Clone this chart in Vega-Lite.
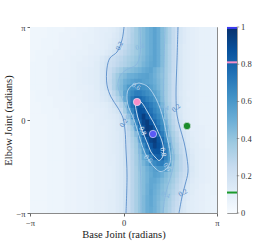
{
"$schema":"https://vega.github.io/schema/vega-lite/v6.json",
"padding":{"left":3,"top":22,"right":2,"bottom":2},
"spacing":5,
"config":{"font":"Liberation Serif","view":{"stroke":"#8a8a8a","strokeWidth":1},
"text":{"font":"Liberation Serif"},
"axis":{"labelFont":"Liberation Serif","titleFont":"Liberation Serif","labelFontSize":8.5,"titleFontSize":10.5,"titleFontWeight":"normal","labelColor":"#333","titleColor":"#222","tickColor":"#666","tickSize":3,"domain":false,"grid":false,"labelPadding":2,"labelFlush":false,"labelOverlap":false}},
"datasets":{
"fine":[
{"y":3.043,"x":[-0.6875,-0.5625,-0.4375,-0.3125,-0.1875,-0.0625,0.0625,0.1875,0.3125,0.4375,0.5625,0.6875,0.8125,0.9375,1.0625,1.1875,1.3125,1.4375,1.5625,1.6875,1.8125,1.9375,2.0625,2.1875,2.3125],"v":[0.10,0.10,0.11,0.12,0.14,0.18,0.22,0.27,0.31,0.36,0.40,0.44,0.48,0.51,0.55,0.51,0.44,0.38,0.32,0.26,0.21,0.16,0.13,0.11,0.10]},
{"y":2.847,"x":[-0.6875,-0.5625,-0.4375,-0.3125,-0.1875,-0.0625,0.0625,0.1875,0.3125,0.4375,0.5625,0.6875,0.8125,0.9375,1.0625,1.1875,1.3125,1.4375,1.5625,1.6875,1.8125,1.9375,2.0625,2.1875,2.3125],"v":[0.10,0.11,0.11,0.13,0.15,0.19,0.23,0.27,0.32,0.36,0.40,0.44,0.48,0.51,0.55,0.51,0.44,0.38,0.32,0.26,0.20,0.16,0.13,0.11,0.10]},
{"y":2.651,"x":[-0.6875,-0.5625,-0.4375,-0.3125,-0.1875,-0.0625,0.0625,0.1875,0.3125,0.4375,0.5625,0.6875,0.8125,0.9375,1.0625,1.1875,1.3125,1.4375,1.5625,1.6875,1.8125,1.9375,2.0625,2.1875,2.3125],"v":[0.10,0.11,0.12,0.14,0.16,0.20,0.24,0.28,0.32,0.36,0.40,0.44,0.48,0.51,0.55,0.51,0.44,0.38,0.32,0.26,0.20,0.16,0.13,0.11,0.10]},
{"y":2.454,"x":[-0.6875,-0.5625,-0.4375,-0.3125,-0.1875,-0.0625,0.0625,0.1875,0.3125,0.4375,0.5625,0.6875,0.8125,0.9375,1.0625,1.1875,1.3125,1.4375,1.5625,1.6875,1.8125,1.9375,2.0625,2.1875,2.3125],"v":[0.10,0.11,0.13,0.15,0.19,0.22,0.26,0.30,0.33,0.37,0.40,0.44,0.48,0.51,0.55,0.51,0.44,0.37,0.31,0.26,0.20,0.15,0.12,0.11,0.10]},
{"y":2.258,"x":[-0.6875,-0.5625,-0.4375,-0.3125,-0.1875,-0.0625,0.0625,0.1875,0.3125,0.4375,0.5625,0.6875,0.8125,0.9375,1.0625,1.1875,1.3125,1.4375,1.5625,1.6875,1.8125,1.9375,2.0625,2.1875,2.3125],"v":[0.11,0.13,0.15,0.18,0.22,0.25,0.28,0.31,0.34,0.37,0.40,0.44,0.48,0.51,0.55,0.51,0.44,0.37,0.31,0.25,0.20,0.15,0.12,0.11,0.10]},
{"y":2.062,"x":[-0.6875,-0.5625,-0.4375,-0.3125,-0.1875,-0.0625,0.0625,0.1875,0.3125,0.4375,0.5625,0.6875,0.8125,0.9375,1.0625,1.1875,1.3125,1.4375,1.5625,1.6875,1.8125,1.9375,2.0625,2.1875,2.3125],"v":[0.14,0.17,0.21,0.23,0.26,0.28,0.31,0.34,0.36,0.39,0.42,0.45,0.49,0.52,0.55,0.51,0.44,0.37,0.31,0.25,0.20,0.15,0.12,0.11,0.10]},
{"y":1.865,"x":[-0.6875,-0.5625,-0.4375,-0.3125,-0.1875,-0.0625,0.0625,0.1875,0.3125,0.4375,0.5625,0.6875,0.8125,0.9375,1.0625,1.1875,1.3125,1.4375,1.5625,1.6875,1.8125,1.9375,2.0625,2.1875,2.3125],"v":[0.15,0.19,0.22,0.24,0.27,0.30,0.32,0.35,0.38,0.40,0.43,0.47,0.50,0.53,0.55,0.51,0.44,0.37,0.31,0.25,0.19,0.15,0.12,0.11,0.10]},
{"y":1.669,"x":[-0.6875,-0.5625,-0.4375,-0.3125,-0.1875,-0.0625,0.0625,0.1875,0.3125,0.4375,0.5625,0.6875,0.8125,0.9375,1.0625,1.1875,1.3125,1.4375,1.5625,1.6875,1.8125,1.9375,2.0625,2.1875,2.3125],"v":[0.16,0.20,0.24,0.28,0.32,0.36,0.40,0.42,0.44,0.46,0.48,0.51,0.53,0.55,0.50,0.46,0.42,0.36,0.31,0.25,0.19,0.15,0.12,0.11,0.10]},
{"y":1.473,"x":[-0.6875,-0.5625,-0.4375,-0.3125,-0.1875,-0.0625,0.0625,0.1875,0.3125,0.4375,0.5625,0.6875,0.8125,0.9375,1.0625,1.1875,1.3125,1.4375,1.5625,1.6875,1.8125,1.9375,2.0625,2.1875,2.3125],"v":[0.16,0.20,0.25,0.31,0.37,0.42,0.45,0.49,0.50,0.52,0.54,0.55,0.56,0.53,0.49,0.45,0.41,0.36,0.30,0.24,0.19,0.15,0.12,0.11,0.10]},
{"y":1.276,"x":[-0.6875,-0.5625,-0.4375,-0.3125,-0.1875,-0.0625,0.0625,0.1875,0.3125,0.4375,0.5625,0.6875,0.8125,0.9375,1.0625,1.1875,1.3125,1.4375,1.5625,1.6875,1.8125,1.9375,2.0625,2.1875,2.3125],"v":[0.16,0.20,0.26,0.32,0.38,0.44,0.49,0.52,0.55,0.57,0.58,0.56,0.55,0.53,0.50,0.46,0.42,0.36,0.30,0.24,0.19,0.15,0.12,0.11,0.10]},
{"y":1.080,"x":[-0.6875,-0.5625,-0.4375,-0.3125,-0.1875,-0.0625,0.0625,0.1875,0.3125,0.4375,0.5625,0.6875,0.8125,0.9375,1.0625,1.1875,1.3125,1.4375,1.5625,1.6875,1.8125,1.9375,2.0625,2.1875,2.3125],"v":[0.15,0.19,0.25,0.32,0.39,0.45,0.52,0.59,0.62,0.64,0.65,0.63,0.61,0.56,0.52,0.47,0.42,0.36,0.30,0.24,0.19,0.15,0.12,0.11,0.10]},
{"y":0.884,"x":[-0.6875,-0.5625,-0.4375,-0.3125,-0.1875,-0.0625,0.0625,0.1875,0.3125,0.4375,0.5625,0.6875,0.8125,0.9375,1.0625,1.1875,1.3125,1.4375,1.5625,1.6875,1.8125,1.9375,2.0625,2.1875,2.3125],"v":[0.14,0.16,0.21,0.28,0.35,0.43,0.55,0.62,0.66,0.70,0.70,0.67,0.64,0.61,0.56,0.50,0.43,0.36,0.30,0.24,0.18,0.14,0.12,0.10,0.10]},
{"y":0.687,"x":[-0.6875,-0.5625,-0.4375,-0.3125,-0.1875,-0.0625,0.0625,0.1875,0.3125,0.4375,0.5625,0.6875,0.8125,0.9375,1.0625,1.1875,1.3125,1.4375,1.5625,1.6875,1.8125,1.9375,2.0625,2.1875,2.3125],"v":[0.13,0.15,0.18,0.24,0.31,0.37,0.52,0.64,0.72,0.79,0.78,0.74,0.69,0.65,0.61,0.53,0.44,0.36,0.30,0.24,0.19,0.15,0.12,0.11,0.10]},
{"y":0.491,"x":[-0.6875,-0.5625,-0.4375,-0.3125,-0.1875,-0.0625,0.0625,0.1875,0.3125,0.4375,0.5625,0.6875,0.8125,0.9375,1.0625,1.1875,1.3125,1.4375,1.5625,1.6875,1.8125,1.9375,2.0625,2.1875,2.3125],"v":[0.11,0.12,0.14,0.18,0.23,0.30,0.38,0.64,0.74,0.82,0.85,0.79,0.75,0.70,0.65,0.60,0.47,0.37,0.31,0.25,0.19,0.15,0.12,0.10,0.10]},
{"y":0.295,"x":[-0.6875,-0.5625,-0.4375,-0.3125,-0.1875,-0.0625,0.0625,0.1875,0.3125,0.4375,0.5625,0.6875,0.8125,0.9375,1.0625,1.1875,1.3125,1.4375,1.5625,1.6875,1.8125,1.9375,2.0625,2.1875,2.3125],"v":[0.10,0.11,0.13,0.15,0.18,0.25,0.35,0.51,0.68,0.80,0.87,0.86,0.79,0.74,0.68,0.63,0.53,0.39,0.32,0.26,0.19,0.15,0.12,0.11,0.10]},
{"y":0.098,"x":[-0.6875,-0.5625,-0.4375,-0.3125,-0.1875,-0.0625,0.0625,0.1875,0.3125,0.4375,0.5625,0.6875,0.8125,0.9375,1.0625,1.1875,1.3125,1.4375,1.5625,1.6875,1.8125,1.9375,2.0625,2.1875,2.3125],"v":[0.10,0.11,0.12,0.13,0.15,0.19,0.28,0.38,0.60,0.75,0.86,0.94,0.86,0.78,0.72,0.66,0.60,0.42,0.34,0.27,0.20,0.16,0.12,0.11,0.10]},
{"y":-0.098,"x":[-0.6875,-0.5625,-0.4375,-0.3125,-0.1875,-0.0625,0.0625,0.1875,0.3125,0.4375,0.5625,0.6875,0.8125,0.9375,1.0625,1.1875,1.3125,1.4375,1.5625,1.6875,1.8125,1.9375,2.0625,2.1875,2.3125],"v":[0.10,0.10,0.11,0.12,0.14,0.18,0.24,0.33,0.45,0.67,0.81,0.91,0.95,0.86,0.78,0.70,0.63,0.48,0.36,0.29,0.23,0.17,0.13,0.11,0.10]},
{"y":-0.295,"x":[-0.6875,-0.5625,-0.4375,-0.3125,-0.1875,-0.0625,0.0625,0.1875,0.3125,0.4375,0.5625,0.6875,0.8125,0.9375,1.0625,1.1875,1.3125,1.4375,1.5625,1.6875,1.8125,1.9375,2.0625,2.1875,2.3125],"v":[0.09,0.10,0.11,0.12,0.14,0.16,0.21,0.29,0.37,0.57,0.74,0.86,0.95,0.93,0.84,0.75,0.66,0.54,0.38,0.31,0.25,0.19,0.15,0.12,0.10]},
{"y":-0.491,"x":[-0.6875,-0.5625,-0.4375,-0.3125,-0.1875,-0.0625,0.0625,0.1875,0.3125,0.4375,0.5625,0.6875,0.8125,0.9375,1.0625,1.1875,1.3125,1.4375,1.5625,1.6875,1.8125,1.9375,2.0625,2.1875,2.3125],"v":[0.09,0.10,0.11,0.12,0.13,0.16,0.20,0.27,0.34,0.43,0.65,0.80,0.90,0.99,0.91,0.81,0.71,0.61,0.40,0.34,0.28,0.21,0.17,0.14,0.11]},
{"y":-0.687,"x":[-0.6875,-0.5625,-0.4375,-0.3125,-0.1875,-0.0625,0.0625,0.1875,0.3125,0.4375,0.5625,0.6875,0.8125,0.9375,1.0625,1.1875,1.3125,1.4375,1.5625,1.6875,1.8125,1.9375,2.0625,2.1875,2.3125],"v":[0.09,0.10,0.11,0.12,0.13,0.16,0.20,0.26,0.32,0.38,0.58,0.73,0.84,0.92,0.95,0.86,0.77,0.65,0.46,0.36,0.30,0.24,0.18,0.14,0.12]},
{"y":-0.884,"x":[-0.6875,-0.5625,-0.4375,-0.3125,-0.1875,-0.0625,0.0625,0.1875,0.3125,0.4375,0.5625,0.6875,0.8125,0.9375,1.0625,1.1875,1.3125,1.4375,1.5625,1.6875,1.8125,1.9375,2.0625,2.1875,2.3125],"v":[0.09,0.10,0.11,0.12,0.13,0.15,0.20,0.25,0.31,0.37,0.48,0.65,0.77,0.85,0.93,0.88,0.81,0.69,0.53,0.37,0.32,0.26,0.20,0.15,0.12]},
{"y":-1.080,"x":[-0.6875,-0.5625,-0.4375,-0.3125,-0.1875,-0.0625,0.0625,0.1875,0.3125,0.4375,0.5625,0.6875,0.8125,0.9375,1.0625,1.1875,1.3125,1.4375,1.5625,1.6875,1.8125,1.9375,2.0625,2.1875,2.3125],"v":[0.09,0.10,0.11,0.12,0.13,0.15,0.19,0.25,0.30,0.36,0.44,0.57,0.69,0.81,0.85,0.86,0.81,0.71,0.60,0.39,0.33,0.27,0.22,0.17,0.13]},
{"y":-1.276,"x":[-0.6875,-0.5625,-0.4375,-0.3125,-0.1875,-0.0625,0.0625,0.1875,0.3125,0.4375,0.5625,0.6875,0.8125,0.9375,1.0625,1.1875,1.3125,1.4375,1.5625,1.6875,1.8125,1.9375,2.0625,2.1875,2.3125],"v":[0.09,0.10,0.11,0.11,0.13,0.15,0.19,0.24,0.30,0.35,0.41,0.51,0.60,0.69,0.78,0.81,0.79,0.69,0.60,0.42,0.35,0.29,0.23,0.18,0.14]},
{"y":-1.473,"x":[-0.6875,-0.5625,-0.4375,-0.3125,-0.1875,-0.0625,0.0625,0.1875,0.3125,0.4375,0.5625,0.6875,0.8125,0.9375,1.0625,1.1875,1.3125,1.4375,1.5625,1.6875,1.8125,1.9375,2.0625,2.1875,2.3125],"v":[0.09,0.10,0.11,0.11,0.13,0.15,0.19,0.24,0.29,0.35,0.40,0.47,0.54,0.61,0.65,0.69,0.70,0.65,0.58,0.39,0.34,0.29,0.24,0.19,0.14]},
{"y":-1.669,"x":[-0.6875,-0.5625,-0.4375,-0.3125,-0.1875,-0.0625,0.0625,0.1875,0.3125,0.4375,0.5625,0.6875,0.8125,0.9375,1.0625,1.1875,1.3125,1.4375,1.5625,1.6875,1.8125,1.9375,2.0625,2.1875,2.3125],"v":[0.09,0.10,0.10,0.11,0.13,0.15,0.18,0.23,0.29,0.34,0.40,0.44,0.49,0.53,0.57,0.61,0.61,0.57,0.47,0.38,0.34,0.29,0.24,0.19,0.15]},
{"y":-1.865,"x":[-0.6875,-0.5625,-0.4375,-0.3125,-0.1875,-0.0625,0.0625,0.1875,0.3125,0.4375,0.5625,0.6875,0.8125,0.9375,1.0625,1.1875,1.3125,1.4375,1.5625,1.6875,1.8125,1.9375,2.0625,2.1875,2.3125],"v":[0.09,0.10,0.10,0.11,0.13,0.15,0.18,0.23,0.29,0.34,0.39,0.44,0.48,0.52,0.56,0.54,0.50,0.45,0.41,0.37,0.32,0.27,0.23,0.19,0.14]},
{"y":-2.062,"x":[-0.6875,-0.5625,-0.4375,-0.3125,-0.1875,-0.0625,0.0625,0.1875,0.3125,0.4375,0.5625,0.6875,0.8125,0.9375,1.0625,1.1875,1.3125,1.4375,1.5625,1.6875,1.8125,1.9375,2.0625,2.1875,2.3125],"v":[0.09,0.10,0.10,0.11,0.13,0.15,0.18,0.23,0.29,0.34,0.39,0.44,0.48,0.53,0.53,0.50,0.46,0.43,0.39,0.35,0.30,0.26,0.21,0.17,0.13]},
{"y":-2.258,"x":[-0.6875,-0.5625,-0.4375,-0.3125,-0.1875,-0.0625,0.0625,0.1875,0.3125,0.4375,0.5625,0.6875,0.8125,0.9375,1.0625,1.1875,1.3125,1.4375,1.5625,1.6875,1.8125,1.9375,2.0625,2.1875,2.3125],"v":[0.09,0.10,0.10,0.11,0.13,0.15,0.18,0.23,0.29,0.34,0.39,0.44,0.49,0.53,0.51,0.48,0.44,0.41,0.37,0.33,0.28,0.24,0.20,0.15,0.12]},
{"y":-2.454,"x":[-0.6875,-0.5625,-0.4375,-0.3125,-0.1875,-0.0625,0.0625,0.1875,0.3125,0.4375,0.5625,0.6875,0.8125,0.9375,1.0625,1.1875,1.3125,1.4375,1.5625,1.6875,1.8125,1.9375,2.0625,2.1875,2.3125],"v":[0.09,0.10,0.11,0.11,0.13,0.15,0.19,0.24,0.29,0.34,0.39,0.44,0.49,0.54,0.50,0.47,0.43,0.40,0.35,0.31,0.27,0.22,0.18,0.14,0.12]},
{"y":-2.651,"x":[-0.6875,-0.5625,-0.4375,-0.3125,-0.1875,-0.0625,0.0625,0.1875,0.3125,0.4375,0.5625,0.6875,0.8125,0.9375,1.0625,1.1875,1.3125,1.4375,1.5625,1.6875,1.8125,1.9375,2.0625,2.1875,2.3125],"v":[0.09,0.10,0.11,0.11,0.13,0.15,0.19,0.24,0.29,0.34,0.39,0.45,0.50,0.53,0.49,0.46,0.42,0.38,0.34,0.29,0.25,0.21,0.16,0.13,0.11]},
{"y":-2.847,"x":[-0.6875,-0.5625,-0.4375,-0.3125,-0.1875,-0.0625,0.0625,0.1875,0.3125,0.4375,0.5625,0.6875,0.8125,0.9375,1.0625,1.1875,1.3125,1.4375,1.5625,1.6875,1.8125,1.9375,2.0625,2.1875,2.3125],"v":[0.09,0.10,0.11,0.11,0.13,0.15,0.19,0.24,0.29,0.34,0.39,0.45,0.50,0.53,0.49,0.45,0.41,0.37,0.33,0.28,0.24,0.19,0.15,0.12,0.11]},
{"y":-3.043,"x":[-0.6875,-0.5625,-0.4375,-0.3125,-0.1875,-0.0625,0.0625,0.1875,0.3125,0.4375,0.5625,0.6875,0.8125,0.9375,1.0625,1.1875,1.3125,1.4375,1.5625,1.6875,1.8125,1.9375,2.0625,2.1875,2.3125],"v":[0.09,0.10,0.11,0.11,0.13,0.15,0.19,0.24,0.29,0.34,0.39,0.45,0.50,0.52,0.49,0.45,0.41,0.36,0.32,0.27,0.23,0.18,0.15,0.12,0.11]}
],
"coarse":[
{"y":3.043,"x":[-3.043,-2.847,-2.651,-2.454,-2.258,-2.062,-1.865,-1.669,-1.473,-1.276,-1.08,-0.884,-0.687,2.454,2.651,2.847,3.043],"v":[0.04,0.04,0.04,0.05,0.05,0.05,0.06,0.06,0.07,0.07,0.08,0.09,0.10,0.09,0.08,0.08,0.07]},
{"y":2.847,"x":[-3.043,-2.847,-2.651,-2.454,-2.258,-2.062,-1.865,-1.669,-1.473,-1.276,-1.08,-0.884,-0.687,2.454,2.651,2.847,3.043],"v":[0.04,0.04,0.04,0.05,0.05,0.06,0.06,0.06,0.07,0.08,0.08,0.09,0.10,0.09,0.08,0.08,0.07]},
{"y":2.651,"x":[-3.043,-2.847,-2.651,-2.454,-2.258,-2.062,-1.865,-1.669,-1.473,-1.276,-1.08,-0.884,-0.687,2.454,2.651,2.847,3.043],"v":[0.04,0.04,0.05,0.05,0.05,0.06,0.06,0.07,0.07,0.08,0.08,0.09,0.10,0.09,0.08,0.08,0.07]},
{"y":2.454,"x":[-3.043,-2.847,-2.651,-2.454,-2.258,-2.062,-1.865,-1.669,-1.473,-1.276,-1.08,-0.884,-0.687,2.454,2.651,2.847,3.043],"v":[0.04,0.04,0.05,0.05,0.05,0.06,0.06,0.07,0.07,0.08,0.09,0.09,0.10,0.09,0.08,0.08,0.07]},
{"y":2.258,"x":[-3.043,-2.847,-2.651,-2.454,-2.258,-2.062,-1.865,-1.669,-1.473,-1.276,-1.08,-0.884,-0.687,2.454,2.651,2.847,3.043],"v":[0.04,0.05,0.05,0.05,0.06,0.06,0.07,0.07,0.08,0.08,0.09,0.10,0.11,0.09,0.08,0.08,0.07]},
{"y":2.062,"x":[-3.043,-2.847,-2.651,-2.454,-2.258,-2.062,-1.865,-1.669,-1.473,-1.276,-1.08,-0.884,-0.687,2.454,2.651,2.847,3.043],"v":[0.04,0.05,0.05,0.06,0.06,0.06,0.07,0.08,0.08,0.09,0.10,0.11,0.14,0.09,0.08,0.08,0.07]},
{"y":1.865,"x":[-3.043,-2.847,-2.651,-2.454,-2.258,-2.062,-1.865,-1.669,-1.473,-1.276,-1.08,-0.884,-0.687,2.454,2.651,2.847,3.043],"v":[0.05,0.05,0.05,0.06,0.06,0.07,0.07,0.08,0.09,0.09,0.10,0.12,0.15,0.09,0.08,0.08,0.07]},
{"y":1.669,"x":[-3.043,-2.847,-2.651,-2.454,-2.258,-2.062,-1.865,-1.669,-1.473,-1.276,-1.08,-0.884,-0.687,2.454,2.651,2.847,3.043],"v":[0.05,0.05,0.05,0.06,0.06,0.07,0.07,0.08,0.09,0.10,0.11,0.12,0.16,0.09,0.08,0.08,0.07]},
{"y":1.473,"x":[-3.043,-2.847,-2.651,-2.454,-2.258,-2.062,-1.865,-1.669,-1.473,-1.276,-1.08,-0.884,-0.687,2.454,2.651,2.847,3.043],"v":[0.05,0.05,0.05,0.06,0.06,0.07,0.07,0.08,0.09,0.10,0.11,0.12,0.16,0.09,0.08,0.08,0.07]},
{"y":1.276,"x":[-3.043,-2.847,-2.651,-2.454,-2.258,-2.062,-1.865,-1.669,-1.473,-1.276,-1.08,-0.884,-0.687,2.454,2.651,2.847,3.043],"v":[0.05,0.05,0.05,0.06,0.06,0.07,0.07,0.08,0.09,0.10,0.11,0.12,0.16,0.09,0.08,0.08,0.07]},
{"y":1.080,"x":[-3.043,-2.847,-2.651,-2.454,-2.258,-2.062,-1.865,-1.669,-1.473,-1.276,-1.08,-0.884,-0.687,2.454,2.651,2.847,3.043],"v":[0.05,0.05,0.05,0.06,0.06,0.07,0.07,0.08,0.09,0.09,0.10,0.12,0.15,0.09,0.08,0.08,0.07]},
{"y":0.884,"x":[-3.043,-2.847,-2.651,-2.454,-2.258,-2.062,-1.865,-1.669,-1.473,-1.276,-1.08,-0.884,-0.687,2.454,2.651,2.847,3.043],"v":[0.04,0.05,0.05,0.06,0.06,0.06,0.07,0.08,0.08,0.09,0.10,0.11,0.14,0.09,0.08,0.08,0.07]},
{"y":0.687,"x":[-3.043,-2.847,-2.651,-2.454,-2.258,-2.062,-1.865,-1.669,-1.473,-1.276,-1.08,-0.884,-0.687,2.454,2.651,2.847,3.043],"v":[0.04,0.05,0.05,0.05,0.06,0.06,0.07,0.07,0.08,0.09,0.10,0.11,0.13,0.09,0.08,0.08,0.07]},
{"y":0.491,"x":[-3.043,-2.847,-2.651,-2.454,-2.258,-2.062,-1.865,-1.669,-1.473,-1.276,-1.08,-0.884,-0.687,2.454,2.651,2.847,3.043],"v":[0.04,0.04,0.05,0.05,0.06,0.06,0.06,0.07,0.08,0.08,0.09,0.10,0.11,0.09,0.08,0.08,0.07]},
{"y":0.295,"x":[-3.043,-2.847,-2.651,-2.454,-2.258,-2.062,-1.865,-1.669,-1.473,-1.276,-1.08,-0.884,-0.687,2.454,2.651,2.847,3.043],"v":[0.04,0.04,0.05,0.05,0.05,0.06,0.06,0.07,0.07,0.08,0.09,0.09,0.10,0.09,0.08,0.08,0.07]},
{"y":0.098,"x":[-3.043,-2.847,-2.651,-2.454,-2.258,-2.062,-1.865,-1.669,-1.473,-1.276,-1.08,-0.884,-0.687,2.454,2.651,2.847,3.043],"v":[0.04,0.04,0.04,0.05,0.05,0.06,0.06,0.06,0.07,0.08,0.08,0.09,0.10,0.09,0.08,0.08,0.07]},
{"y":-0.098,"x":[-3.043,-2.847,-2.651,-2.454,-2.258,-2.062,-1.865,-1.669,-1.473,-1.276,-1.08,-0.884,-0.687,2.454,2.651,2.847,3.043],"v":[0.04,0.04,0.04,0.05,0.05,0.05,0.06,0.06,0.07,0.07,0.08,0.09,0.10,0.09,0.08,0.08,0.07]},
{"y":-0.295,"x":[-3.043,-2.847,-2.651,-2.454,-2.258,-2.062,-1.865,-1.669,-1.473,-1.276,-1.08,-0.884,-0.687,2.454,2.651,2.847,3.043],"v":[0.04,0.04,0.04,0.05,0.05,0.05,0.06,0.06,0.07,0.07,0.08,0.09,0.09,0.10,0.09,0.08,0.07]},
{"y":-0.491,"x":[-3.043,-2.847,-2.651,-2.454,-2.258,-2.062,-1.865,-1.669,-1.473,-1.276,-1.08,-0.884,-0.687,2.454,2.651,2.847,3.043],"v":[0.04,0.04,0.04,0.05,0.05,0.05,0.06,0.06,0.07,0.07,0.08,0.09,0.09,0.10,0.09,0.08,0.07]},
{"y":-0.687,"x":[-3.043,-2.847,-2.651,-2.454,-2.258,-2.062,-1.865,-1.669,-1.473,-1.276,-1.08,-0.884,-0.687,2.454,2.651,2.847,3.043],"v":[0.04,0.04,0.04,0.05,0.05,0.05,0.06,0.06,0.07,0.07,0.08,0.09,0.09,0.10,0.09,0.08,0.08]},
{"y":-0.884,"x":[-3.043,-2.847,-2.651,-2.454,-2.258,-2.062,-1.865,-1.669,-1.473,-1.276,-1.08,-0.884,-0.687,2.454,2.651,2.847,3.043],"v":[0.04,0.04,0.04,0.05,0.05,0.05,0.06,0.06,0.07,0.07,0.08,0.09,0.09,0.11,0.09,0.08,0.08]},
{"y":-1.080,"x":[-3.043,-2.847,-2.651,-2.454,-2.258,-2.062,-1.865,-1.669,-1.473,-1.276,-1.08,-0.884,-0.687,2.454,2.651,2.847,3.043],"v":[0.04,0.04,0.04,0.05,0.05,0.05,0.06,0.06,0.07,0.07,0.08,0.09,0.09,0.11,0.10,0.09,0.08]},
{"y":-1.276,"x":[-3.043,-2.847,-2.651,-2.454,-2.258,-2.062,-1.865,-1.669,-1.473,-1.276,-1.08,-0.884,-0.687,2.454,2.651,2.847,3.043],"v":[0.04,0.04,0.04,0.05,0.05,0.05,0.06,0.06,0.07,0.07,0.08,0.09,0.09,0.11,0.10,0.09,0.08]},
{"y":-1.473,"x":[-3.043,-2.847,-2.651,-2.454,-2.258,-2.062,-1.865,-1.669,-1.473,-1.276,-1.08,-0.884,-0.687,2.454,2.651,2.847,3.043],"v":[0.04,0.04,0.04,0.05,0.05,0.05,0.06,0.06,0.07,0.07,0.08,0.09,0.09,0.12,0.10,0.09,0.08]},
{"y":-1.669,"x":[-3.043,-2.847,-2.651,-2.454,-2.258,-2.062,-1.865,-1.669,-1.473,-1.276,-1.08,-0.884,-0.687,2.454,2.651,2.847,3.043],"v":[0.04,0.04,0.04,0.05,0.05,0.05,0.06,0.06,0.07,0.07,0.08,0.09,0.09,0.12,0.10,0.09,0.08]},
{"y":-1.865,"x":[-3.043,-2.847,-2.651,-2.454,-2.258,-2.062,-1.865,-1.669,-1.473,-1.276,-1.08,-0.884,-0.687,2.454,2.651,2.847,3.043],"v":[0.04,0.04,0.04,0.05,0.05,0.05,0.06,0.06,0.07,0.07,0.08,0.09,0.09,0.12,0.10,0.09,0.08]},
{"y":-2.062,"x":[-3.043,-2.847,-2.651,-2.454,-2.258,-2.062,-1.865,-1.669,-1.473,-1.276,-1.08,-0.884,-0.687,2.454,2.651,2.847,3.043],"v":[0.04,0.04,0.04,0.05,0.05,0.05,0.06,0.06,0.07,0.07,0.08,0.09,0.09,0.11,0.10,0.09,0.08]},
{"y":-2.258,"x":[-3.043,-2.847,-2.651,-2.454,-2.258,-2.062,-1.865,-1.669,-1.473,-1.276,-1.08,-0.884,-0.687,2.454,2.651,2.847,3.043],"v":[0.04,0.04,0.04,0.05,0.05,0.05,0.06,0.06,0.07,0.07,0.08,0.09,0.09,0.11,0.09,0.08,0.08]},
{"y":-2.454,"x":[-3.043,-2.847,-2.651,-2.454,-2.258,-2.062,-1.865,-1.669,-1.473,-1.276,-1.08,-0.884,-0.687,2.454,2.651,2.847,3.043],"v":[0.04,0.04,0.04,0.05,0.05,0.05,0.06,0.06,0.07,0.07,0.08,0.09,0.09,0.10,0.09,0.08,0.08]},
{"y":-2.651,"x":[-3.043,-2.847,-2.651,-2.454,-2.258,-2.062,-1.865,-1.669,-1.473,-1.276,-1.08,-0.884,-0.687,2.454,2.651,2.847,3.043],"v":[0.04,0.04,0.04,0.05,0.05,0.05,0.06,0.06,0.07,0.07,0.08,0.09,0.09,0.10,0.09,0.08,0.07]},
{"y":-2.847,"x":[-3.043,-2.847,-2.651,-2.454,-2.258,-2.062,-1.865,-1.669,-1.473,-1.276,-1.08,-0.884,-0.687,2.454,2.651,2.847,3.043],"v":[0.04,0.04,0.04,0.05,0.05,0.05,0.06,0.06,0.07,0.07,0.08,0.09,0.09,0.10,0.09,0.08,0.07]},
{"y":-3.043,"x":[-3.043,-2.847,-2.651,-2.454,-2.258,-2.062,-1.865,-1.669,-1.473,-1.276,-1.08,-0.884,-0.687,2.454,2.651,2.847,3.043],"v":[0.04,0.04,0.04,0.05,0.05,0.05,0.06,0.06,0.07,0.07,0.08,0.09,0.09,0.10,0.09,0.08,0.07]}
],
"contours":[
{"lvl":"0.2","seg":"a2","o":0,"x":0.017,"y":3.142},{"lvl":"0.2","seg":"a2","o":1,"x":-0.05,"y":2.703},{"lvl":"0.2","seg":"a2","o":2,"x":-0.218,"y":2.297},{"lvl":"0.2","seg":"a2","o":3,"x":-0.454,"y":2.095},{"lvl":"0.2","seg":"a2","o":4,"x":-0.554,"y":1.757},{"lvl":"0.2","seg":"a2","o":5,"x":-0.554,"y":1.182},{"lvl":"0.2","seg":"a2","o":6,"x":-0.42,"y":0.777},{"lvl":"0.2","seg":"a2","o":7,"x":-0.185,"y":0.405},{"lvl":"0.2","seg":"a2","o":8,"x":-0.017,"y":0.068},{"lvl":"0.2","seg":"a2","o":9,"x":0.05,"y":-0.338},{"lvl":"0.2","seg":"a2","o":10,"x":0.084,"y":-1.014},{"lvl":"0.2","seg":"a2","o":11,"x":0.118,"y":-1.858},{"lvl":"0.2","seg":"a2","o":12,"x":0.084,"y":-3.142},
{"lvl":"0.2","seg":"b2","o":0,"x":1.831,"y":3.142},{"lvl":"0.2","seg":"b2","o":1,"x":1.798,"y":2.027},{"lvl":"0.2","seg":"b2","o":2,"x":1.764,"y":0.845},{"lvl":"0.2","seg":"b2","o":3,"x":1.798,"y":0.169},{"lvl":"0.2","seg":"b2","o":4,"x":1.899,"y":-0.27},{"lvl":"0.2","seg":"b2","o":5,"x":2.033,"y":-0.743},{"lvl":"0.2","seg":"b2","o":6,"x":2.134,"y":-1.284},{"lvl":"0.2","seg":"b2","o":7,"x":2.167,"y":-1.757},{"lvl":"0.2","seg":"b2","o":8,"x":2.067,"y":-2.196},{"lvl":"0.2","seg":"b2","o":9,"x":1.966,"y":-2.601},{"lvl":"0.2","seg":"b2","o":10,"x":1.865,"y":-3.142},
{"lvl":"0.4","seg":"a4","o":0,"x":0.554,"y":3.142},{"lvl":"0.4","seg":"a4","o":1,"x":0.554,"y":2.196},{"lvl":"0.4","seg":"a4","o":2,"x":0.42,"y":1.858},{"lvl":"0.4","seg":"a4","o":3,"x":0.084,"y":1.689},{"lvl":"0.4","seg":"a4","o":4,"x":-0.118,"y":1.486},{"lvl":"0.4","seg":"a4","o":5,"x":-0.185,"y":1.149},{"lvl":"0.4","seg":"a4","o":6,"x":-0.05,"y":0.743},{"lvl":"0.4","seg":"a4","o":7,"x":0.134,"y":0.304},{"lvl":"0.4","seg":"a4","o":8,"x":0.218,"y":0.101},{"lvl":"0.4","seg":"a4","o":9,"x":0.286,"y":-0.101},{"lvl":"0.4","seg":"a4","o":10,"x":0.353,"y":-0.304},{"lvl":"0.4","seg":"a4","o":11,"x":0.42,"y":-0.49},{"lvl":"0.4","seg":"a4","o":12,"x":0.487,"y":-0.676},{"lvl":"0.4","seg":"a4","o":13,"x":0.528,"y":-1.081},{"lvl":"0.4","seg":"a4","o":14,"x":0.558,"y":-1.486},{"lvl":"0.4","seg":"a4","o":15,"x":0.581,"y":-2.061},{"lvl":"0.4","seg":"a4","o":16,"x":0.588,"y":-3.142},
{"lvl":"0.4","seg":"b4","o":0,"x":1.394,"y":3.142},{"lvl":"0.4","seg":"b4","o":1,"x":1.361,"y":1.689},{"lvl":"0.4","seg":"b4","o":2,"x":1.361,"y":0.676},{"lvl":"0.4","seg":"b4","o":3,"x":1.462,"y":0.0},{"lvl":"0.4","seg":"b4","o":4,"x":1.596,"y":-0.676},{"lvl":"0.4","seg":"b4","o":5,"x":1.697,"y":-1.284},{"lvl":"0.4","seg":"b4","o":6,"x":1.63,"y":-1.757},{"lvl":"0.4","seg":"b4","o":7,"x":1.495,"y":-2.196},{"lvl":"0.4","seg":"b4","o":8,"x":1.394,"y":-2.601},{"lvl":"0.4","seg":"b4","o":9,"x":1.327,"y":-3.142},
{"lvl":"0.6","seg":"a6","o":0,"x":0.521,"y":1.25},{"lvl":"0.6","seg":"a6","o":1,"x":0.79,"y":1.149},{"lvl":"0.6","seg":"a6","o":2,"x":1.025,"y":0.845},{"lvl":"0.6","seg":"a6","o":3,"x":1.226,"y":0.405},{"lvl":"0.6","seg":"a6","o":4,"x":1.361,"y":-0.068},{"lvl":"0.6","seg":"a6","o":5,"x":1.462,"y":-0.574},{"lvl":"0.6","seg":"a6","o":6,"x":1.562,"y":-1.081},{"lvl":"0.6","seg":"a6","o":7,"x":1.562,"y":-1.453},{"lvl":"0.6","seg":"a6","o":8,"x":1.394,"y":-1.689},{"lvl":"0.6","seg":"a6","o":9,"x":1.226,"y":-1.74},{"lvl":"0.6","seg":"a6","o":10,"x":1.058,"y":-1.622},{"lvl":"0.6","seg":"a6","o":11,"x":0.89,"y":-1.419},{"lvl":"0.6","seg":"a6","o":12,"x":0.722,"y":-1.115},{"lvl":"0.6","seg":"a6","o":13,"x":0.588,"y":-0.743},{"lvl":"0.6","seg":"a6","o":14,"x":0.454,"y":-0.304},{"lvl":"0.6","seg":"a6","o":15,"x":0.319,"y":0.101},{"lvl":"0.6","seg":"a6","o":16,"x":0.168,"y":0.439},{"lvl":"0.6","seg":"a6","o":17,"x":0.118,"y":0.709},{"lvl":"0.6","seg":"a6","o":18,"x":0.151,"y":1.014},{"lvl":"0.6","seg":"a6","o":19,"x":0.286,"y":1.166},{"lvl":"0.6","seg":"a6","o":20,"x":0.521,"y":1.25},
{"lvl":"0.8","seg":"a8","o":0,"x":0.47,"y":0.709},{"lvl":"0.8","seg":"a8","o":1,"x":0.622,"y":0.574},{"lvl":"0.8","seg":"a8","o":2,"x":0.79,"y":0.304},{"lvl":"0.8","seg":"a8","o":3,"x":0.904,"y":0.101},{"lvl":"0.8","seg":"a8","o":4,"x":1.018,"y":-0.101},{"lvl":"0.8","seg":"a8","o":5,"x":1.116,"y":-0.304},{"lvl":"0.8","seg":"a8","o":6,"x":1.203,"y":-0.49},{"lvl":"0.8","seg":"a8","o":7,"x":1.28,"y":-0.676},{"lvl":"0.8","seg":"a8","o":8,"x":1.331,"y":-0.878},{"lvl":"0.8","seg":"a8","o":9,"x":1.344,"y":-1.081},{"lvl":"0.8","seg":"a8","o":10,"x":1.294,"y":-1.284},{"lvl":"0.8","seg":"a8","o":11,"x":1.193,"y":-1.368},{"lvl":"0.8","seg":"a8","o":12,"x":1.092,"y":-1.284},{"lvl":"0.8","seg":"a8","o":13,"x":0.924,"y":-1.081},{"lvl":"0.8","seg":"a8","o":14,"x":0.843,"y":-0.878},{"lvl":"0.8","seg":"a8","o":15,"x":0.759,"y":-0.676},{"lvl":"0.8","seg":"a8","o":16,"x":0.685,"y":-0.49},{"lvl":"0.8","seg":"a8","o":17,"x":0.612,"y":-0.304},{"lvl":"0.8","seg":"a8","o":18,"x":0.541,"y":-0.101},{"lvl":"0.8","seg":"a8","o":19,"x":0.477,"y":0.101},{"lvl":"0.8","seg":"a8","o":20,"x":0.43,"y":0.304},{"lvl":"0.8","seg":"a8","o":21,"x":0.403,"y":0.541},{"lvl":"0.8","seg":"a8","o":22,"x":0.47,"y":0.709}
],
"labels":[
{"lab":"l2a","lvl":"0.2","x":-0.134,"y":2.5},{"lab":"l2b","lvl":"0.2","x":0.01,"y":-0.101},{"lab":"l2c","lvl":"0.2","x":1.775,"y":0.405},{"lab":"l2d","lvl":"0.2","x":1.999,"y":-2.466},
{"lab":"l4a","lvl":"0.4","x":0.554,"y":2.466},{"lab":"l4b","lvl":"0.4","x":0.218,"y":0.101},{"lab":"l4c","lvl":"0.4","x":1.372,"y":0.405},{"lab":"l4d","lvl":"0.4","x":1.411,"y":-2.534},
{"lab":"l6a","lvl":"0.6","x":0.42,"y":1.132},{"lab":"l6b","lvl":"0.6","x":0.823,"y":-1.318},{"lab":"l6c","lvl":"0.6","x":1.462,"y":-1.588},
{"lab":"l8a","lvl":"0.8","x":0.638,"y":-0.372},{"lab":"l8b","lvl":"0.8","x":1.327,"y":-1.081}
],
"points":[{"name":"pink","x":0.454,"y":0.608},{"name":"blue","x":0.991,"y":-0.473},{"name":"green","x":2.134,"y":-0.203}],
"marks":[{"name":"blue","v":0.995},{"name":"pink","v":0.81},{"name":"green","v":0.11}],
"cbticks":[{"t":0},{"t":0.2},{"t":0.4},{"t":0.6},{"t":0.8},{"t":1}]
},
"hconcat":[
{"width":187,"height":186,
"resolve":{"scale":{"color":"independent","angle":"independent"}},
"layer":[
{"data":{"name":"coarse"},"transform":[{"flatten":["x","v"]}],"mark":{"type":"rect","width":6.8,"height":6.8,"clip":true},
"encoding":{"x":{"field":"x","type":"quantitative","scale":{"domain":[-3.14159,3.14159],"nice":false,"zero":false},"title":"Base Joint (radians)","axis":{"values":[-3.14159,0,3.14159],"labelExpr":"datum.value < -1 ? '−π' : (datum.value > 1 ? 'π' : '0')","titlePadding":3,"labelOverlap":false}},
"y":{"field":"y","type":"quantitative","scale":{"domain":[-3.14159,3.14159],"nice":false,"zero":false},"title":"Elbow Joint (radians)","axis":{"values":[-3.14159,0,3.14159],"labelExpr":"datum.value < -1 ? '−π' : (datum.value > 1 ? 'π' : '0')","titlePadding":2,"labelOverlap":false}},
"fill":{"field":"v","type":"quantitative","scale":{"domain":[0,0.125,0.25,0.375,0.5,0.625,0.75,0.875,1],"range":["#f7fbff","#deebf7","#c6dbef","#9ecae1","#6baed6","#4292c6","#2171b5","#08519c","#08306b"]},"legend":null}}},
{"data":{"name":"fine"},"transform":[{"flatten":["x","v"]}],"mark":{"type":"rect","width":4.6,"height":6.8,"clip":true},
"encoding":{"x":{"field":"x","type":"quantitative"},"y":{"field":"y","type":"quantitative"},
"fill":{"field":"v","type":"quantitative","legend":null}}},
{"data":{"name":"contours"},"mark":{"type":"line","interpolate":"catmull-rom","strokeWidth":0.8,"clip":true},
"encoding":{"x":{"field":"x","type":"quantitative"},"y":{"field":"y","type":"quantitative"},"detail":{"field":"seg"},"order":{"field":"o","type":"quantitative"},
"stroke":{"field":"lvl","type":"nominal","scale":{"domain":["0.2","0.4","0.6","0.8"],"range":["#4a83c4","#86b5e0","#c7ddf2","#eef5fc"]},"legend":null}}},
{"data":{"name":"labels"},"mark":{"type":"text","fontSize":7,"font":"Liberation Serif","align":"center","baseline":"middle"},
"encoding":{"x":{"field":"x","type":"quantitative"},"y":{"field":"y","type":"quantitative"},"text":{"field":"lvl"},
"angle":{"field":"lab","type":"nominal","scale":{"domain":["l2a","l2b","l2c","l2d","l4a","l4b","l4c","l4d","l6a","l6b","l6c","l8a","l8b"],"range":[-65,80,90,-75,90,65,90,-80,30,55,-60,65,-80]},"legend":null},
"color":{"field":"lvl","type":"nominal","scale":{"domain":["0.2","0.4","0.6","0.8"],"range":["#4a83c4","#86b5e0","#c7ddf2","#eef5fc"]},"legend":null}}},
{"data":{"name":"points"},"mark":{"type":"circle","size":55,"opacity":1,"stroke":"#eef0ff","strokeWidth":0.6},
"encoding":{"x":{"field":"x","type":"quantitative"},"y":{"field":"y","type":"quantitative"},
"color":{"field":"name","type":"nominal","scale":{"domain":["pink","blue","green"],"range":["#f78fc8","#5a5af5","#1b8c2b"]},"legend":null}}}
]},
{"width":10,"height":186,
"view":{"stroke":"#9a9a9a"},
"layer":[
{"data":{"values":[{"lo":0,"hi":1}]},"mark":{"type":"rect","fill":{"gradient":"linear","x1":0,"y1":1,"x2":0,"y2":0,"stops":[{"offset":0,"color":"#f7fbff"},{"offset":0.125,"color":"#deebf7"},{"offset":0.25,"color":"#c6dbef"},{"offset":0.375,"color":"#9ecae1"},{"offset":0.5,"color":"#6baed6"},{"offset":0.625,"color":"#4292c6"},{"offset":0.75,"color":"#2171b5"},{"offset":0.875,"color":"#08519c"},{"offset":1,"color":"#08306b"}]}},
"encoding":{"y":{"field":"lo","type":"quantitative","scale":{"domain":[0,1],"nice":false},"axis":null},"y2":{"field":"hi"}}},
{"data":{"name":"marks"},"mark":{"type":"rule","strokeWidth":2},
"encoding":{"y":{"field":"v","type":"quantitative","axis":null},"color":{"field":"name","type":"nominal","scale":{"domain":["blue","pink","green"],"range":["#3c3cf0","#f78fc8","#1a9a2a"]},"legend":null}}},
{"data":{"name":"cbticks"},"mark":{"type":"tick","orient":"horizontal","size":2.5,"thickness":0.8,"color":"#666","xOffset":6},
"encoding":{"y":{"field":"t","type":"quantitative","axis":null}}},
{"data":{"name":"cbticks"},"mark":{"type":"text","align":"left","baseline":"middle","fontSize":8.5,"font":"Liberation Serif","color":"#333","dx":9},
"encoding":{"y":{"field":"t","type":"quantitative","axis":null},"text":{"field":"t","type":"quantitative","format":"~g"}}}
]}
]
}
